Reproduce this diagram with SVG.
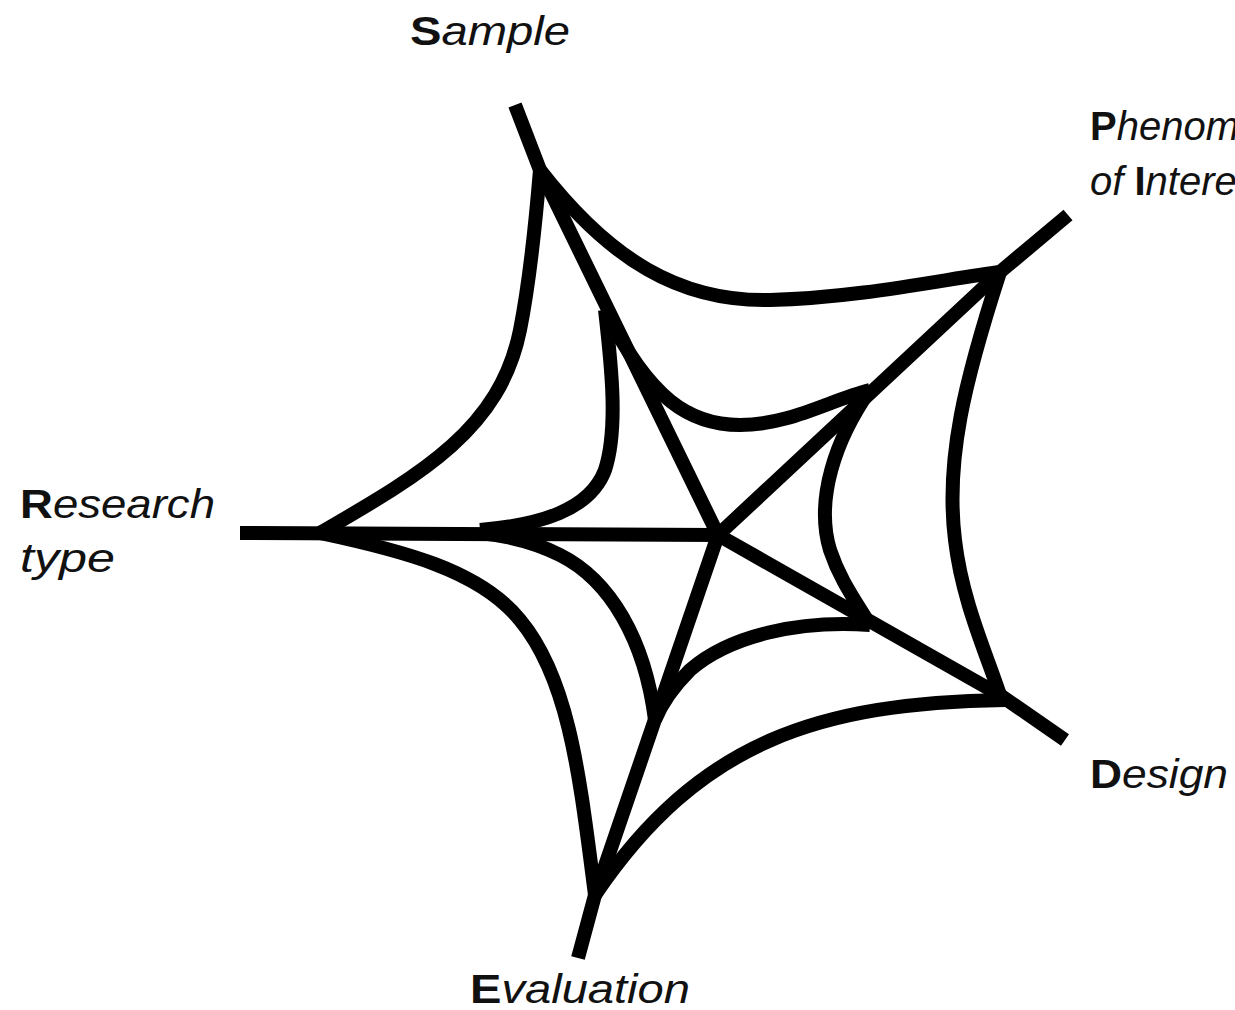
<svg xmlns="http://www.w3.org/2000/svg" width="1235" height="1010" viewBox="0 0 1235 1010">
<style>
.w{fill:none;stroke:#000;stroke-width:14;stroke-linejoin:round;stroke-linecap:butt}
.t{font-family:"Liberation Sans",Arial,sans-serif;font-size:40px;font-style:italic;fill:#111}
.b{font-weight:bold;font-style:normal}
</style>
<rect width="1235" height="1010" fill="#fff"/>
<g id="spokes">
<polyline class="w" points="515,105 540,170 718,535"/>
<polyline class="w" points="1068,215 1000,272 718,535"/>
<polyline class="w" points="240,533 718,535"/>
<polyline class="w" points="1065,740 1000,695 718,535"/>
<polyline class="w" points="578,958 595,895 718,535"/>
</g>
<g id="outer-ring">
<path class="w" d="M540,170 C610,260 680,302 770,300 S950,278 1000,272"/>
<path class="w" d="M1000,272 C965,380 945,460 955,540 C962,600 985,650 1000,695"/>
<path class="w" d="M1005,700 C820,703 700,740 595,895"/>
<path class="w" d="M595,895 C580,780 570,680 520,620 C480,570 400,550 320,533"/>
<path class="w" d="M320,533 C420,475 500,430 520,330 C530,280 535,230 540,170"/>
</g>
<g id="inner-ring">
<path class="w" d="M605,310 C650,400 690,425 740,425 C790,425 830,400 870,390"/>
<path class="w" d="M870,390 C835,440 815,500 830,550 C840,580 855,600 870,625"/>
<path class="w" d="M870,625 C800,620 730,635 690,670 Q665,695 655,720"/>
<path class="w" d="M655,720 C645,640 610,580 560,555 C530,540 500,535 480,533"/>
<path class="w" d="M480,530 C540,525 590,510 605,470 C618,430 612,370 605,310"/>
</g>
<g id="label-sample"><text class="t" x="410" y="45" textLength="160" lengthAdjust="spacingAndGlyphs"><tspan class="b">S</tspan>ample</text></g>
<g id="label-phenomenon"><text class="t" x="1090" y="140"><tspan class="b">P</tspan>henomenon</text><text class="t" x="1090" y="195">of <tspan class="b">I</tspan>nterest</text></g>
<g id="label-research"><text class="t" x="20" y="518" textLength="195" lengthAdjust="spacingAndGlyphs"><tspan class="b">R</tspan>esearch</text><text class="t" x="20" y="572" textLength="95" lengthAdjust="spacingAndGlyphs">type</text></g>
<g id="label-design"><text class="t" x="1090" y="788" textLength="138" lengthAdjust="spacingAndGlyphs"><tspan class="b">D</tspan>esign</text></g>
<g id="label-evaluation"><text class="t" x="470" y="1003" textLength="220" lengthAdjust="spacingAndGlyphs"><tspan class="b">E</tspan>valuation</text></g>
</svg>
